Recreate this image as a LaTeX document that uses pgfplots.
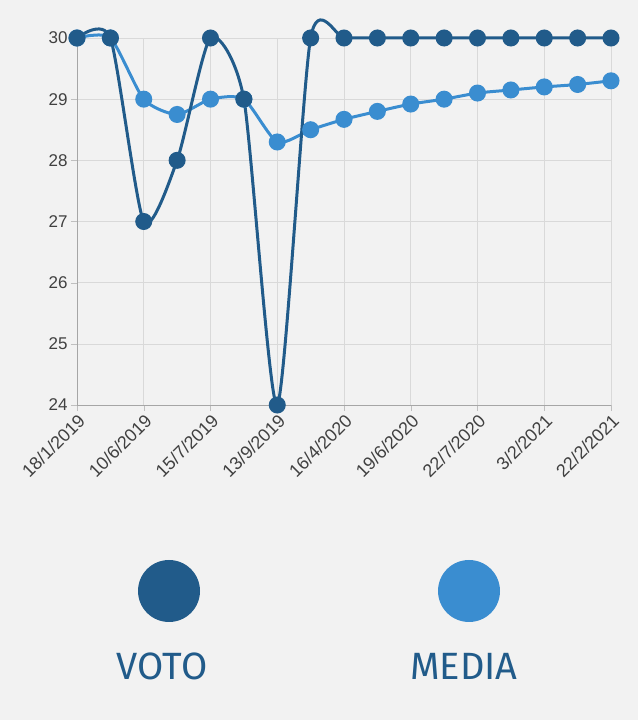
\documentclass[border=0pt]{standalone}
\usepackage{pgfplots}
\pgfplotsset{compat=1.18}
\usepackage{fontspec}
\setmainfont{Liberation Sans}
\newfontfamily\legfont{Fira Sans}
\definecolor{dk}{HTML}{215B8A}
\definecolor{lt}{HTML}{3A8DD0}
\definecolor{bg}{HTML}{F2F2F2}
\begin{document}
\begin{tikzpicture}[x=1pt,y=1pt]
\fill[bg] (0,0) rectangle (638,720);
\useasboundingbox (0,0) rectangle (638,720);
\begin{axis}[at={(77pt,315pt)},anchor=origin,scale only axis,width=534pt,height=367pt,
 xmin=0,xmax=16,ymin=24,ymax=30,clip=false,
 axis lines=left, axis line style={-,gray!70,line width=0.8pt},
 xtick={0,2,...,16},
 xticklabels={18/1/2019,10/6/2019,15/7/2019,13/9/2019,16/4/2020,19/6/2020,22/7/2020,3/2/2021,22/2/2021},
 x tick label style={rotate=45,anchor=north east,inner sep=1pt,font=\fontsize{18}{18}\selectfont,text=black!75},
 ytick={24,...,30},
 y tick label style={font=\fontsize{17}{17}\selectfont,text=black!75},
 /pgf/number format/assume math mode=true,
 grid=major, grid style={gray!30,line width=0.6pt},
 tick style={gray!50}, major tick length=6pt, tick align=outside]
\addplot[lt,line width=3pt,smooth,tension=0.4,mark=*,mark size=7pt,mark options={fill=lt,draw=lt}] coordinates {
(0,30)(1,30)(2,29)(3,28.75)(4,29)(5,29)(6,28.3)(7,28.5)(8,28.67)(9,28.8)(10,28.92)(11,29)(12,29.1)(13,29.15)(14,29.2)(15,29.24)(16,29.3)};
\addplot[dk,line width=3pt,smooth,tension=0.4,mark=*,mark size=7pt,mark options={fill=dk,draw=dk}] coordinates {
(0,30)(1,30)(2,27)(3,28)(4,30)(5,29)(6,24)(7,30)(8,30)(9,30)(10,30)(11,30)(12,30)(13,30)(14,30)(15,30)(16,30)};
\end{axis}
\fill[dk] (169,129) circle (31);
\fill[lt] (469,129) circle (31);
\node[text=dk,font=\legfont\fontsize{38}{38}\selectfont] at (162,54) {VOTO};
\node[text=dk,font=\legfont\fontsize{38}{38}\selectfont] at (464,54) {MEDIA};
\end{tikzpicture}
\end{document}
